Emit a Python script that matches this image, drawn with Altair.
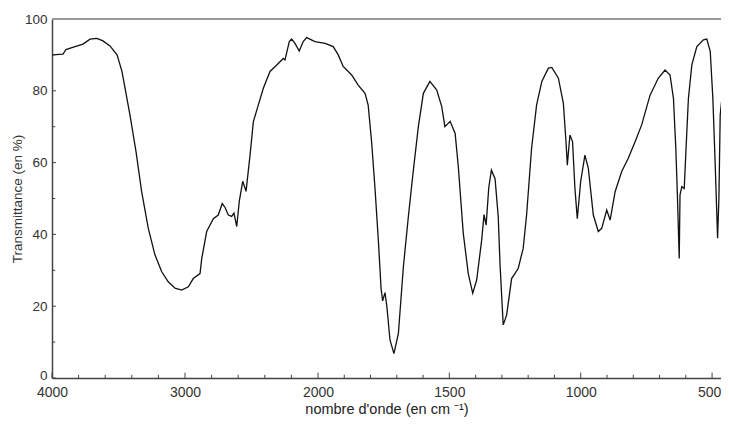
import altair as alt
import pandas as pd

# Spectrum
wavenumber = [4000, 3917, 3895, 3827, 3767, 3714, 3662, 3617, 3564, 3511, 3474, 3414, 3368, 3326,
              3276, 3226, 3175, 3126, 3075, 3025, 2975, 2938, 2887, 2874, 2837, 2787, 2750, 2720,
              2699, 2674, 2649, 2632, 2611, 2592, 2566, 2541, 2511, 2486, 2449, 2411, 2361, 2310,
              2261, 2248, 2216, 2198, 2173, 2141, 2111, 2085, 2023, 1973, 1942, 1923, 1904, 1872,
              1847, 1821, 1809, 1796, 1783, 1770, 1760, 1754, 1745, 1738, 1726, 1711, 1694, 1675,
              1656, 1637, 1618, 1599, 1574, 1548, 1529, 1517, 1497, 1478, 1466, 1447, 1428, 1411,
              1396, 1377, 1368, 1360, 1350, 1340, 1326, 1314, 1307, 1295, 1282, 1263, 1238, 1219,
              1206, 1187, 1168, 1148, 1123, 1110, 1085, 1066, 1056, 1051, 1041, 1031, 1022, 1013,
              1000, 984, 971, 952, 933, 920, 901, 888, 869, 844, 819, 793, 768, 736, 705, 679, 660,
              647, 638, 632, 625, 622, 615, 606, 599, 590, 577, 558, 533, 520, 507, 497, 488, 479,
              474, 469, 456, 443, 434]
transmittance = [90.0, 90.2, 91.5, 92.3, 93.0, 94.4, 94.6, 93.9, 92.5, 90.0, 85.4, 73.3, 63.0, 51.9,
                 41.7, 34.3, 29.6, 26.8, 25.0, 24.5, 25.4, 27.7, 29.1, 33.3, 40.8, 44.4, 45.4, 48.6,
                 47.5, 45.4, 45.0, 45.9, 42.2, 49.2, 54.8, 52.0, 62.1, 71.4, 76.0, 80.7, 85.4, 87.2,
                 89.0, 88.6, 93.7, 94.4, 93.2, 91.1, 93.7, 94.8, 93.7, 93.2, 92.3, 90.0, 86.8, 84.4,
                 81.6, 79.3, 76.0, 65.8, 52.8, 38.0, 25.0, 21.5, 23.8, 20.0, 10.6, 6.8, 12.4, 31.0,
                 45.0, 57.9, 70.0, 79.3, 82.6, 80.2, 75.6, 70.0, 71.5, 68.1, 58.9, 40.3, 29.1, 23.6,
                 27.3, 38.4, 45.5, 42.6, 53.0, 57.9, 55.5, 45.0, 31.5, 14.8, 17.5, 27.7, 30.5, 36.1,
                 45.4, 64.0, 76.0, 82.6, 86.3, 86.5, 83.5, 76.5, 65.8, 59.3, 67.7, 65.8, 52.8, 44.4,
                 54.8, 62.1, 58.4, 45.4, 40.8, 41.7, 46.8, 44.0, 51.9, 57.5, 61.2, 65.8, 70.5, 78.8,
                 83.5, 85.8, 84.4, 77.9, 64.0, 51.0, 33.3, 51.0, 53.3, 52.8, 64.0, 77.9, 87.2, 92.3,
                 94.2, 94.4, 91.0, 77.9, 59.3, 38.9, 50.0, 73.3, 82.6, 90.0, 93.0]

x_major = [4000, 3000, 2000, 1500, 1000, 500]
x_ticks = list(range(4000, 2000, -200)) + list(range(2000, 499, -100))
y_major = [0, 20, 40, 60, 80, 100]
y_ticks = list(range(0, 101, 10))
top_line = [100]

W, H = 669, 359
FONT = "Liberation Sans, Arial, sans-serif"

df = pd.DataFrame({"wn": wavenumber, "T": transmittance})
xt = pd.DataFrame({"wn": x_ticks, "len": [1.5 if v in x_major else 0.9 for v in x_ticks]})
xt["y0"] = 0.0
yt = pd.DataFrame({"T": y_ticks, "x0": 4000, "x1": [3970 if v in y_major else 3975 for v in y_ticks]})

x_scale = alt.Scale(domain=[4000, 2000, 466], range=[0, 266, W], zero=False)
y_scale = alt.Scale(domain=[0, 100], zero=False, nice=False)

x_axis = alt.Axis(
    values=x_major, format="d", grid=False, ticks=False,
    labelPadding=7, labelFlush=False, labelOverlap=False,
    labelOffset={"condition": {"test": "datum.value === 500", "value": -3}, "value": 0},
    labelFont=FONT, labelFontSize=14, labelColor="#333",
    domainColor="#444", domainWidth=1.5,
    title="nombre d'onde (en cm ⁻¹)", titleFont=FONT, titleFontSize=14.5,
    titleFontWeight="normal", titleColor="#222", titlePadding=3,
)
y_axis = alt.Axis(
    values=y_major, grid=False, ticks=False,
    labelPadding=5, labelFlush=False, labelOverlap=False,
    labelOffset={"condition": {"test": "datum.value === 0", "value": -3}, "value": 0},
    labelFont=FONT, labelFontSize=13.5, labelColor="#333",
    domainColor="#444", domainWidth=1.5,
    title="Transmittance (en %)", titleFont=FONT, titleFontSize=13.5,
    titleFontWeight="normal", titleColor="#333", titlePadding=0,
)

line = alt.Chart(df).mark_line(color="#111", strokeWidth=1.3, clip=True).encode(
    x=alt.X("wn:Q", scale=x_scale, axis=x_axis),
    y=alt.Y("T:Q", scale=y_scale, axis=y_axis),
)

xticks = alt.Chart(xt).mark_rule(color="#444", strokeWidth=1).encode(
    x=alt.X("wn:Q", scale=x_scale),
    y=alt.Y("y0:Q", scale=y_scale),
    y2="len:Q",
)
yticks = alt.Chart(yt).mark_rule(color="#444", strokeWidth=1).encode(
    y=alt.Y("T:Q", scale=y_scale),
    x=alt.X("x0:Q", scale=x_scale),
    x2="x1:Q",
)

top = alt.Chart(pd.DataFrame({"t": top_line})).mark_rule(color="#999", strokeWidth=2).encode(
    y=alt.Y("t:Q", scale=y_scale),
    x=alt.value(0),
    x2=alt.value(W),
)

chart = alt.layer(line, xticks, yticks, top).properties(
    width=W, height=H,
    autosize=alt.AutoSizeParams(type="none"),
    padding={"left": 44, "top": 11, "right": 0, "bottom": 41},
    background="white",
).configure_view(stroke=None)

chart.save("out.html", embed_options={"renderer": "svg", "actions": False})
